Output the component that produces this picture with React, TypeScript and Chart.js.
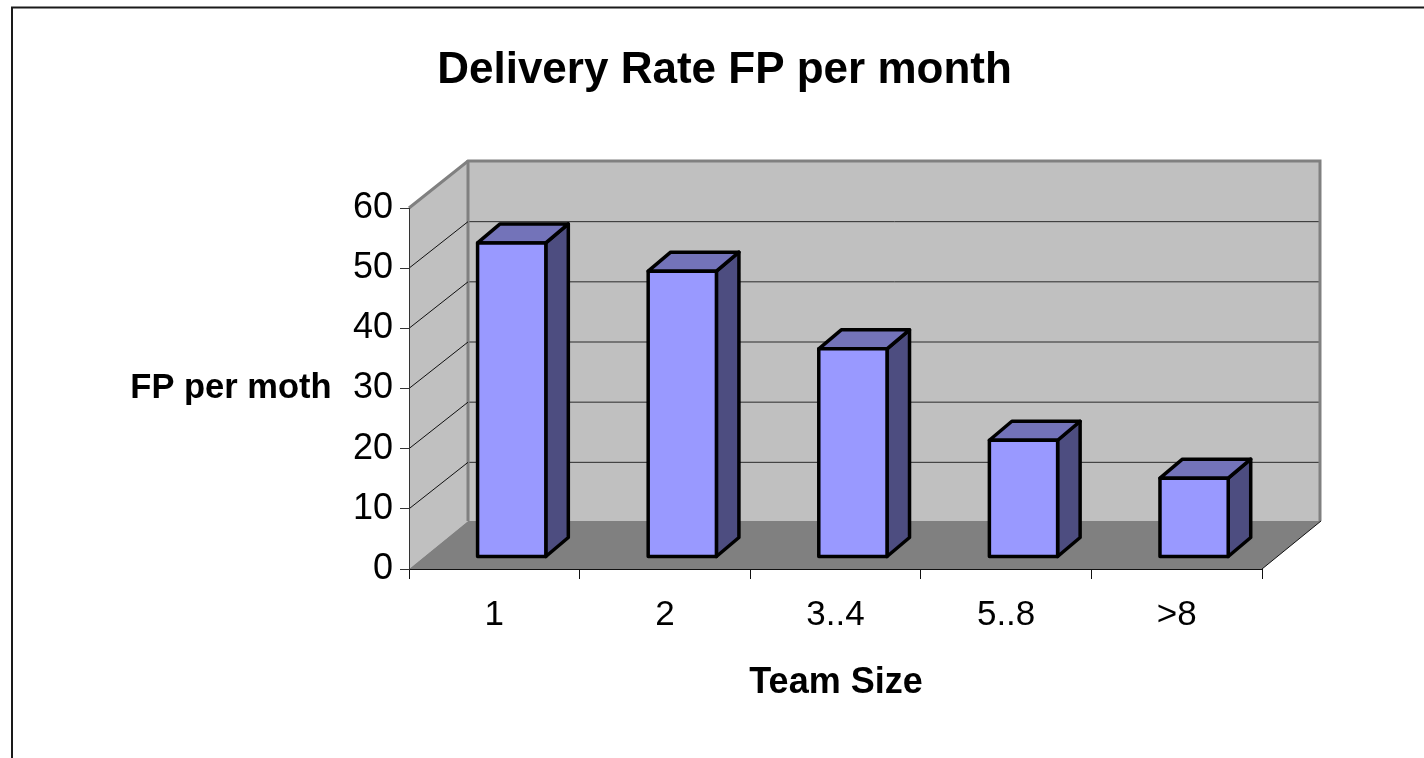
import React, { useEffect, useRef } from "react";
import { Chart, registerables } from "chart.js";

Chart.register(...registerables);

const categories = ["1", "2", "3..4", "5..8", ">8"];
const fpPerMonth = [52.2, 47.5, 34.6, 19.4, 13.1];
const titleText = "Delivery Rate FP per month";
const yTitleText = "FP per moth";
const xTitleText = "Team Size";

const FONT = "'Liberation Sans', Arial, sans-serif";
const WALL = { dx: 59, dy: -48 };
const GRID_DY = -46.5;
const BAR_SHIFT = { dx: 17.4, dy: -12 };
const BAR_DEPTH = { dx: 22.5, dy: -19 };
const BAR_LINE = 3.5;

function poly(ctx: CanvasRenderingContext2D, pts: number[][], fill?: string, stroke?: string, lw = 1) {
  ctx.beginPath();
  pts.forEach((p, i) => (i ? ctx.lineTo(p[0], p[1]) : ctx.moveTo(p[0], p[1])));
  ctx.closePath();
  if (fill) {
    ctx.fillStyle = fill;
    ctx.fill();
  }
  if (stroke) {
    ctx.strokeStyle = stroke;
    ctx.lineWidth = lw;
    ctx.lineJoin = "round";
    ctx.stroke();
  }
}

function line(ctx: CanvasRenderingContext2D, pts: number[][], color: string, lw: number) {
  ctx.beginPath();
  pts.forEach((p, i) => (i ? ctx.lineTo(p[0], p[1]) : ctx.moveTo(p[0], p[1])));
  ctx.strokeStyle = color;
  ctx.lineWidth = lw;
  ctx.stroke();
}

const threeD = {
  id: "threeD",
  beforeDraw(chart: any) {
    const { ctx, chartArea: a, scales } = chart;
    const { dx, dy } = WALL;
    ctx.save();
    // frame
    line(ctx, [[12, 758], [12, 7.5], [1424, 7.5]], "#1a1a1a", 2);
    // back wall, side wall, floor
    poly(ctx, [[a.left + dx, a.top + dy], [a.right + dx, a.top + dy], [a.right + dx, a.bottom + dy], [a.left + dx, a.bottom + dy]], "#c0c0c0");
    poly(ctx, [[a.left, a.top], [a.left + dx, a.top + dy], [a.left + dx, a.bottom + dy], [a.left, a.bottom]], "#c0c0c0");
    poly(ctx, [[a.left, a.bottom], [a.right, a.bottom], [a.right + dx, a.bottom + dy], [a.left + dx, a.bottom + dy]], "#808080");
    // gridlines
    const y = scales.y;
    y.ticks.forEach((t: any) => {
      if (t.value === 0 || t.value === y.max) return;
      const py = y.getPixelForValue(t.value);
      line(ctx, [[a.left + dx, py + GRID_DY], [a.right + dx, py + GRID_DY]], "#2a2a2a", 1);
    });
    // wall outlines
    line(ctx, [[a.left, a.top], [a.left + dx, a.top + dy + 1], [a.right + dx - 1, a.top + dy + 1], [a.right + dx - 1, a.bottom + dy]], "#808080", 3);
    line(ctx, [[a.left + dx, a.top + dy], [a.left + dx, a.bottom + dy]], "#808080", 3);
    y.ticks.forEach((t: any) => {
      if (t.value === 0 || t.value === y.max) return;
      const py = y.getPixelForValue(t.value);
      line(ctx, [[a.left, py], [a.left + dx, py + GRID_DY]], "#111111", 1);
    });
    line(ctx, [[a.right, a.bottom], [a.right + dx, a.bottom + dy]], "#111111", 1);
    ctx.restore();
  },
  beforeDatasetDraw(chart: any, args: any) {
    const ctx = chart.ctx;
    ctx.save();
    ctx.translate(BAR_SHIFT.dx, BAR_SHIFT.dy);
    const { dx, dy } = BAR_DEPTH;
    args.meta.data.forEach((b: any) => {
      const l = b.x - b.width / 2;
      const r = b.x + b.width / 2;
      poly(ctx, [[r, b.y], [r + dx, b.y + dy], [r + dx, b.base + dy], [r, b.base]], "#4d4d80", "#000000", BAR_LINE);
      poly(ctx, [[l, b.y], [l + dx, b.y + dy], [r + dx, b.y + dy], [r, b.y]], "#7373b9", "#000000", BAR_LINE);
    });
  },
  afterDatasetDraw(chart: any, args: any) {
    const ctx = chart.ctx;
    args.meta.data.forEach((b: any) => {
      const l = b.x - b.width / 2;
      const r = b.x + b.width / 2;
      poly(ctx, [[l, b.y], [r, b.y], [r, b.base], [l, b.base]], undefined, "#000000", BAR_LINE);
    });
    ctx.restore();
  },
  afterDraw(chart: any) {
    const ctx = chart.ctx;
    ctx.save();
    ctx.fillStyle = "#000000";
    ctx.textBaseline = "middle";
    ctx.textAlign = "center";
    ctx.font = `bold 44px ${FONT}`;
    ctx.fillText(titleText, 724.5, 71);
    ctx.font = `bold 34.5px ${FONT}`;
    ctx.fillText(yTitleText, 231, 388);
    ctx.font = `bold 36px ${FONT}`;
    ctx.fillText(xTitleText, 836, 683);
    ctx.restore();
  },
};

export default function App() {
  const ref = useRef<HTMLCanvasElement>(null);
  useEffect(() => {
    const chart = new Chart(ref.current as HTMLCanvasElement, {
      type: "bar",
      data: {
        labels: categories,
        datasets: [
          {
            label: "FP per month",
            data: fpPerMonth,
            backgroundColor: "#9999ff",
            borderWidth: 0,
            barPercentage: 0.4,
            categoryPercentage: 1,
            clip: false,
          } as any,
        ],
      },
      options: {
        responsive: false,
        animation: false,
        layout: { padding: { top: 208, right: 162, left: 0, bottom: 0 } },
        plugins: { legend: { display: false }, title: { display: false }, tooltip: { enabled: false } },
        scales: {
          x: {
            afterFit: (s: any) => {
              s.height = 758 - 569;
            },
            grid: { drawOnChartArea: false, drawTicks: true, tickLength: 10, tickColor: "#111111", offset: true },
            border: { color: "#111111", width: 1 },
            ticks: { color: "#000000", font: { family: FONT, size: 35 }, padding: 15, maxRotation: 0 },
          },
          y: {
            min: 0,
            max: 60,
            afterFit: (s: any) => {
              s.width = 409;
            },
            grid: { drawOnChartArea: false, drawTicks: true, tickLength: 9, tickColor: "#333333" },
            border: { color: "#333333", width: 1 },
            ticks: { stepSize: 10, color: "#000000", font: { family: FONT, size: 36 }, padding: 7 },
          },
        },
      },
      plugins: [threeD],
    } as any);
    return () => chart.destroy();
  }, []);
  return (
    <div style={{ position: "absolute", left: 0, top: 0, width: 1424, height: 758, overflow: "hidden", background: "#fff" }}>
      <canvas ref={ref} width={1424} height={758} style={{ display: "block" }} />
    </div>
  );
}
